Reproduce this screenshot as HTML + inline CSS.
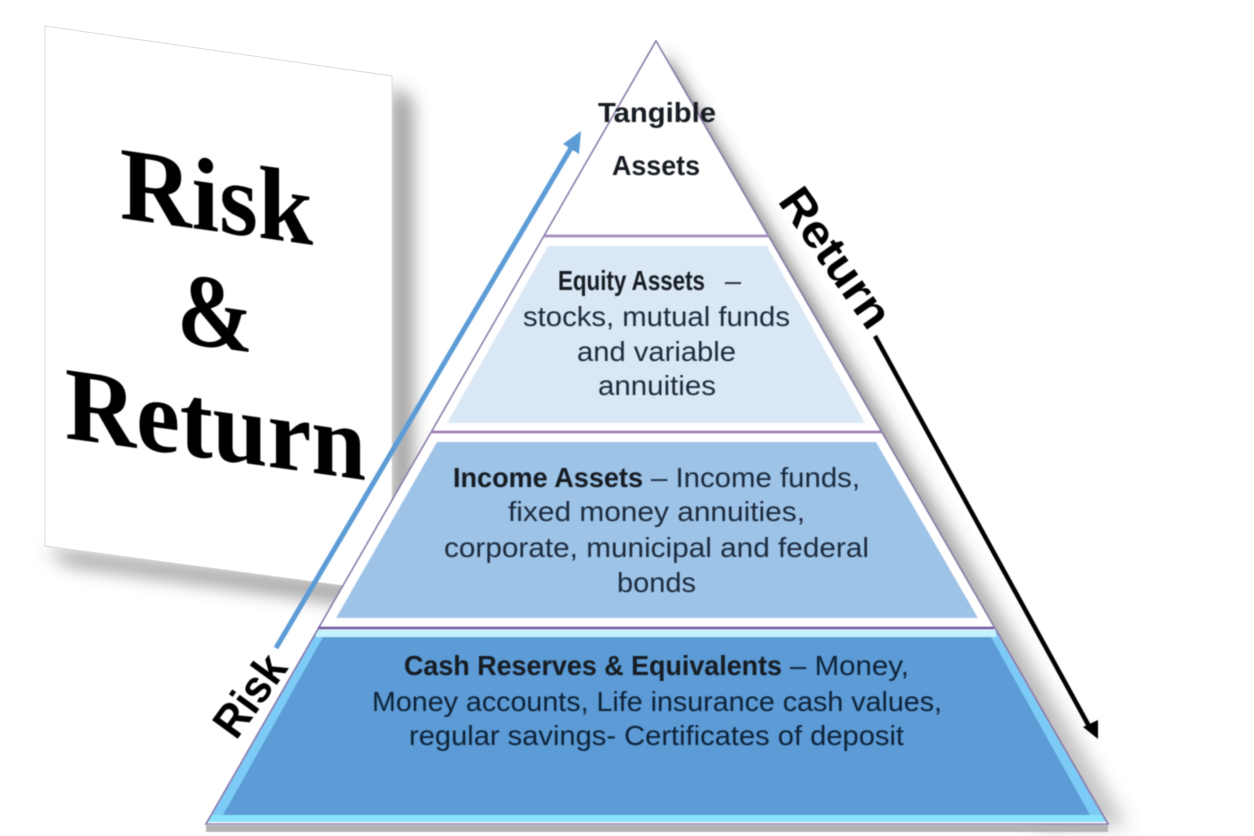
<!DOCTYPE html>
<html>
<head>
<meta charset="utf-8">
<style>
html,body{margin:0;padding:0;background:#fff;width:1254px;height:836px;overflow:hidden}
svg{display:block}
.t{font-family:"Liberation Sans",sans-serif;font-size:27.5px;fill:#1c2c3c}
.b{font-weight:bold;fill:#131a24}
.c{fill:#0f2238}
.s{font-family:"Liberation Serif",serif;font-weight:bold;font-size:104px;fill:#000}
.l{font-family:"Liberation Sans",sans-serif;font-weight:bold;font-size:46px;fill:#000}
</style>
</head>
<body>
<svg width="1254" height="836" viewBox="0 0 1254 836" xmlns="http://www.w3.org/2000/svg">
<defs>
<filter id="bl" x="-30%" y="-30%" width="160%" height="160%"><feGaussianBlur stdDeviation="9"/></filter>
<filter id="tx" x="-5%" y="-5%" width="110%" height="110%"><feGaussianBlur stdDeviation="0.6"/></filter>
<filter id="e" x="-5%" y="-5%" width="110%" height="110%"><feGaussianBlur stdDeviation="0.5"/></filter>
<linearGradient id="sh" x1="0" y1="56" x2="0" y2="826" gradientUnits="userSpaceOnUse">
<stop offset="0" stop-color="#333" stop-opacity=".85"/>
<stop offset=".45" stop-color="#444" stop-opacity=".6"/>
<stop offset="1" stop-color="#666" stop-opacity=".35"/>
</linearGradient>
</defs>
<rect width="1254" height="836" fill="#fff"/>

<!-- card shadow -->
<polygon points="70,565 412,612 412,100 392,86 392,590 45,548" fill="#555" opacity=".62" filter="url(#bl)"/>
<!-- card -->
<polygon points="45,26 392,76 392,592 45,546" fill="#fff" stroke="#dcdcdc" stroke-width="1"/>
<g filter="url(#tx)">
<text class="s" transform="matrix(1,.14,0,1,120,218)" textLength="193" lengthAdjust="spacingAndGlyphs">Risk</text>
<text class="s" transform="matrix(1,.14,0,1,177,342)" textLength="76" lengthAdjust="spacingAndGlyphs">&amp;</text>
<text class="s" transform="matrix(1,.14,0,1,65,438)" textLength="301" lengthAdjust="spacingAndGlyphs">Return</text>
</g>

<!-- pyramid shadow -->
<polygon points="664,56 1128,826 1040,830 640,120" fill="url(#sh)" filter="url(#bl)"/>
<rect x="206" y="825" width="902" height="7" fill="#b4b4b4" filter="url(#e)"/>

<g filter="url(#e)">
<!-- pyramid tiers -->
<polygon points="656,41 1108,824 206,824" fill="#fff"/>
<polygon points="548,246 767,246 865,423 447,423" fill="#dae7f5"/>
<polygon points="437,442 876,442 978,618 336,618" fill="#9dc3e7"/>
<polygon points="318,630 995,630 1106,822 208,822" fill="#7ccbf6"/>
<rect x="316" y="630" width="680" height="7" fill="#c4f2fc"/>
<polygon points="212,815 1102,815 1106,822 208,822" fill="#88e2fa"/>
<polygon points="323,637 991,637 1090,815 223,815" fill="#5b9bd5"/>

<g fill="none" stroke="#8672a8" stroke-width="1.6">
<polygon points="656,41 1108,824 206,824"/>
<line x1="544" y1="236" x2="769" y2="236" stroke-width="3" stroke="#a68fc0"/>
<line x1="431" y1="432" x2="882" y2="432" stroke-width="3" stroke="#a080bd"/>
<line x1="318" y1="628" x2="994" y2="628" stroke-width="3" stroke="#7560a8"/>
</g>

<!-- arrows -->
<line x1="276" y1="648" x2="574" y2="143" stroke="#5b9bd5" stroke-width="5"/>
<polygon points="581,131 579,154 563,144" fill="#5b9bd5"/>
<line x1="875" y1="336" x2="1090" y2="728" stroke="#000" stroke-width="4.5"/>
<polygon points="1098,739 1083,727 1098,720" fill="#000"/>
</g>

<g filter="url(#tx)">
<!-- rotated labels -->
<text class="l" transform="translate(236,741) rotate(-54)" textLength="90" lengthAdjust="spacingAndGlyphs">Risk</text>
<text class="l" transform="translate(777,201) rotate(55)" textLength="160" lengthAdjust="spacingAndGlyphs">Return</text>

<!-- pyramid text -->
<text class="t b" x="598" y="122" textLength="118" lengthAdjust="spacingAndGlyphs">Tangible</text>
<text class="t b" x="612" y="175" textLength="88" lengthAdjust="spacingAndGlyphs">Assets</text>

<text class="t b" x="558" y="290" textLength="147" lengthAdjust="spacingAndGlyphs">Equity Assets</text>
<text class="t" x="725" y="290" textLength="16" lengthAdjust="spacingAndGlyphs">–</text>
<text class="t" x="523" y="326" textLength="267" lengthAdjust="spacingAndGlyphs">stocks, mutual funds</text>
<text class="t" x="577" y="361" textLength="159" lengthAdjust="spacingAndGlyphs">and variable</text>
<text class="t" x="598" y="395" textLength="118" lengthAdjust="spacingAndGlyphs">annuities</text>

<text class="t b" x="453" y="487" textLength="190" lengthAdjust="spacingAndGlyphs">Income Assets</text>
<text class="t" x="651" y="487" textLength="209" lengthAdjust="spacingAndGlyphs">– Income funds,</text>
<text class="t" x="508" y="521" textLength="297" lengthAdjust="spacingAndGlyphs">fixed money annuities,</text>
<text class="t" x="444" y="557" textLength="425" lengthAdjust="spacingAndGlyphs">corporate, municipal and federal</text>
<text class="t" x="617" y="592" textLength="79" lengthAdjust="spacingAndGlyphs">bonds</text>

<text class="t b" x="404" y="675" textLength="378" lengthAdjust="spacingAndGlyphs">Cash Reserves &amp; Equivalents</text>
<text class="t c" x="790" y="675" textLength="119" lengthAdjust="spacingAndGlyphs">– Money,</text>
<text class="t c" x="372" y="711" textLength="570" lengthAdjust="spacingAndGlyphs">Money accounts, Life insurance cash values,</text>
<text class="t c" x="409" y="745" textLength="495" lengthAdjust="spacingAndGlyphs">regular savings- Certificates of deposit</text>
</g>
</svg>
</body>
</html>
